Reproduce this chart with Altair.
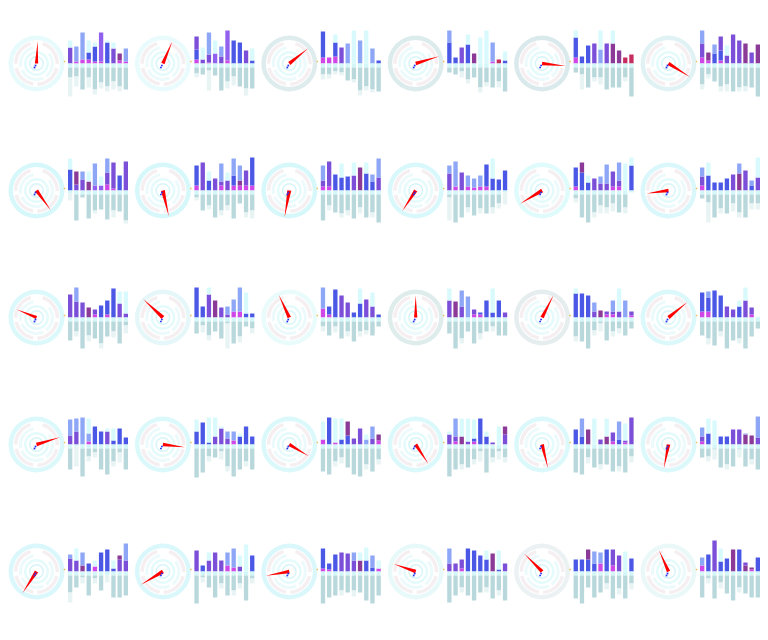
import altair as alt
import pandas as pd

# ---------------- data (30 cells, 10 bars each) ----------------
COLORS = {"A": "#4b58e6", "B": "#7c4fd8", "C": "#cf47e6", "D": "#8ea6f6", "E": "#d9fafc",
          "F": "#8b3b97", "R": "#c52d5e", "V": "#9160ee",
          "T": "#b8d8dc", "L": "#e8f3f4", "K": "#d3f7f9"}

# needle angle (deg, clockwise from 12 o'clock) and length (px)
ANG = [3, 23, 51, 73, 96, 122, 144, 167, 190, 213, 239, 262, 292, 313, 335, 0, 27, 51,
       73, 97, 121, 147, 166, 191, 213, 239, 260, 289, 315, 336]
LEN = [22, 24, 24, 24.6, 23.7, 25.4, 24.6, 26.4, 27, 24.8, 25.7, 22.2, 21.3, 26.8, 25.1, 22, 25, 24.1,
       24.6, 22.2, 22.8, 23.4, 24.4, 24.5, 25.8, 25.7, 23.8, 23.3, 25.2, 23.3]

# outer ring tint per cell
TINT = ["#dff9fb", "#e2fafb", "#d3e6e8", "#d0e4e6", "#cde3e5", "#d5eef0",
        "#c9f6f9", "#c9f6f9", "#c9f6f9", "#ccf6f9", "#d6f9fb", "#cdf6f9",
        "#cff7fa", "#dcf4f6", "#e3f9fa", "#d3e6e6", "#dde7e8", "#cff6f9",
        "#cff7fa", "#cff7fa", "#cff7fa", "#cff7fa", "#cff7fa", "#cff7fa",
        "#cdf6f9", "#cdf6f9", "#cdf6f9", "#e0f7f8", "#e6eeef", "#e3f5f6"]

# stacked bars above the baseline: magenta base, lower segment, upper segment
LOW_C = ["BDDAAVABFD", "ABBVBVAABA", "ACABDEDEDA", "AABAFEEDRA", "AAABDBFFRR", "BFAABBBFBF",
         "ABBFVVBBAB", "ABABBBAFBA", "BBAAABFAAB", "BDBDDDAAAA", "AAABBBBBEA", "BAAAABFBAB",
         "BBBFBAAABB", "AABFBBDDAA", "DAABBAABBA", "BFBDBAAAAB", "AAABFBBBDB", "AAAABBABBE",
         "BBDDAABAAA", "AAABBBDAAA", "EAEAABBDBF", "BBFBAAABEB", "AAFEBFBABB", "BAEAABBFFB",
         "BBFAEAAABB", "BABBBDDBEA", "AAABBBFAAE", "BBBAAAAFAB", "AAAADABBEA", "DABAAFAFFA"]
LOW_H = [[16, 15, 27, 7, 15, 29, 21, 15, 7, 13], [10, 4, 8, 10, 7, 30, 23, 21, 13, 3],
         [26, 6, 14, 16, 20, 33, 23, 33, 15, 3], [21, 6, 16, 19, 10, 26, 33, 19, 4, 3],
         [20, 7, 18, 20, 14, 20, 20, 13, 6, 9], [14, 8, 10, 10, 8, 29, 23, 20, 11, 19],
         [21, 6, 11, 9, 5, 5, 12, 26, 15, 29], [20, 28, 10, 12, 4, 10, 10, 5, 15, 28],
         [6, 25, 16, 13, 14, 15, 23, 17, 9, 13], [17, 25, 18, 11, 9, 11, 22, 12, 11, 20],
         [19, 18, 8, 12, 7, 7, 15, 6, 27, 25], [9, 15, 8, 8, 12, 16, 17, 20, 5, 13],
         [23, 16, 15, 10, 5, 12, 14, 29, 14, 4], [30, 11, 23, 17, 10, 3, 12, 24, 4, 4],
         [21, 8, 28, 22, 15, 5, 14, 18, 11, 3], [17, 16, 11, 21, 5, 2, 17, 5, 17, 5],
         [24, 24, 22, 6, 7, 3, 3, 6, 17, 4], [19, 14, 27, 22, 11, 8, 11, 17, 7, 1],
         [9, 13, 27, 8, 18, 13, 13, 4, 16, 7], [13, 22, 2, 8, 16, 6, 9, 8, 18, 8],
         [18, 27, 24, 5, 9, 6, 16, 5, 6, 6], [10, 5, 8, 3, 3, 26, 8, 2, 18, 10],
         [15, 8, 15, 26, 5, 8, 9, 5, 2, 27], [5, 11, 24, 8, 8, 15, 15, 10, 9, 7],
         [13, 11, 6, 8, 6, 19, 22, 3, 12, 11], [21, 6, 11, 19, 11, 13, 19, 5, 27, 16],
         [20, 6, 17, 19, 18, 11, 11, 11, 4, 8], [8, 8, 9, 23, 21, 16, 12, 18, 2, 8],
         [12, 12, 12, 8, 11, 22, 16, 16, 20, 13], [8, 17, 31, 10, 13, 22, 22, 6, 2, 14]]
UP_C = ["EEEEEEEEEE", "BEDEDEEEEE", "EEEEEEEEEE", "DEEEEEEEEE", "EEEEEEEEEE", "DEDBEEEEEE",
        "EFDEDEDEEE", "EEEEDEDDEE", "DEEEEEEEDD", "DEEEEEEEEE", "EFEEDDEDEE", "DEEEEEDEDE",
        "EDEEEEEEEE", "EEEEEDEEEE", "EEEEEEEEEE", "EEDEEEEEEE", "EEEDEEDEEE", "EDEEEEEEEE",
        "DDEEEEEEEE", "EEEEEDEEEE", "EEEEFEEEDE", "EDEEEEEEEF", "EDEEEEEDEE", "DEEEEEEDDD",
        "DEDEEEEEFD", "EEEEEEEEEE", "EEEEEDEEDE", "DEEEEEEEEE", "EEFDEEEEEE", "EEEEEEEBEE"]
UP_H = [[7, 0, 0, 12, 4, 0, 2, 6, 0, 0], [13, 12, 22, 13, 10, 0, 0, 0, 0, 12],
        [0, 0, 8, 0, 0, 0, 0, 0, 0, 0], [12, 0, 0, 10, 0, 0, 0, 0, 0, 9],
        [7, 0, 0, 0, 19, 0, 13, 0, 0, 0], [13, 0, 9, 14, 10, 0, 0, 0, 0, 0],
        [11, 13, 8, 10, 22, 9, 14, 0, 0, 0], [0, 0, 9, 0, 18, 8, 17, 15, 0, 0],
        [15, 0, 0, 14, 0, 13, 0, 11, 7, 19], [8, 0, 0, 0, 0, 0, 0, 20, 0, 0],
        [0, 10, 7, 0, 7, 19, 0, 18, 0, 8], [9, 13, 0, 0, 0, 0, 10, 0, 5, 20],
        [0, 14, 0, 0, 0, 0, 0, 0, 12, 22], [0, 0, 7, 0, 0, 8, 0, 0, 21, 0],
        [0, 0, 0, 0, 0, 0, 15, 0, 14, 0], [12, 0, 16, 0, 0, 0, 0, 24, 0, 0],
        [5, 0, 0, 9, 0, 0, 11, 23, 0, 0], [0, 6, 0, 0, 0, 0, 6, 13, 0, 0],
        [16, 13, 0, 15, 0, 0, 3, 12, 0, 0], [12, 0, 25, 19, 2, 7, 0, 3, 0, 0],
        [0, 0, 0, 21, 14, 0, 0, 5, 12, 0], [3, 18, 18, 23, 19, 0, 5, 0, 0, 8],
        [0, 18, 0, 0, 0, 18, 0, 18, 17, 0], [9, 15, 0, 0, 0, 0, 0, 1, 0, 21],
        [4, 12, 13, 0, 0, 0, 0, 8, 4, 17], [0, 0, 8, 0, 0, 0, 0, 11, 0, 0],
        [0, 0, 0, 0, 0, 8, 8, 13, 12, 0], [15, 0, 0, 0, 0, 0, 9, 0, 19, 0],
        [0, 0, 10, 12, 0, 0, 0, 0, 0, 0], [0, 0, 0, 13, 0, 0, 0, 3, 0, 0]]
MAG = [[0, 2, 4, 4, 2, 2, 0, 0, 3, 2], [4, 0, 1, 0, 0, 3, 0, 0, 0, 0], [6, 0, 7, 0, 0, 0, 0, 0, 0, 0],
       [0, 0, 0, 0, 0, 0, 0, 2, 0, 0], [6, 0, 0, 0, 0, 0, 0, 0, 0, 0], [6, 3, 0, 3, 0, 0, 0, 0, 0, 0],
       [0, 0, 0, 0, 0, 0, 6, 2, 0, 0], [5, 0, 0, 0, 5, 0, 5, 5, 5, 5], [4, 4, 0, 0, 0, 0, 0, 0, 0, 0],
       [0, 4, 0, 4, 3, 4, 4, 0, 0, 0], [4, 0, 0, 0, 0, 0, 4, 4, 0, 0], [5, 0, 0, 0, 0, 0, 0, 0, 0, 0],
       [0, 0, 0, 0, 3, 0, 3, 0, 0, 0], [0, 0, 0, 0, 0, 0, 6, 6, 0, 0], [9, 3, 0, 0, 0, 0, 0, 0, 0, 0],
       [0, 0, 0, 0, 3, 3, 0, 0, 0, 0], [0, 0, 0, 0, 0, 3, 3, 0, 0, 2], [6, 6, 0, 0, 0, 0, 0, 0, 3, 0],
       [0, 0, 0, 3, 0, 0, 0, 0, 0, 0], [0, 0, 0, 0, 0, 0, 4, 0, 0, 0], [5, 0, 2, 0, 0, 0, 0, 0, 0, 4],
       [0, 3, 0, 0, 3, 0, 0, 0, 0, 0], [0, 0, 0, 0, 0, 0, 3, 0, 2, 0], [3, 0, 0, 0, 0, 0, 0, 0, 0, 0],
       [0, 0, 0, 0, 5, 0, 0, 0, 0, 0], [0, 0, 0, 0, 0, 6, 4, 0, 0, 0], [3, 2, 0, 0, 0, 0, 0, 0, 0, 3],
       [0, 0, 3, 0, 0, 0, 0, 0, 0, 0], [0, 0, 0, 0, 8, 0, 6, 0, 0, 0], [6, 0, 0, 0, 0, 0, 0, 0, 2, 0]]

# bars below the baseline: teal depth and pale extension
DN = [[14, 13, 26, 14, 26, 19, 23, 18, 23, 26], [10, 11, 7, 12, 27, 18, 13, 23, 25, 25],
      [11, 11, 8, 9, 17, 16, 27, 23, 26, 28], [9, 11, 8, 16, 14, 24, 19, 24, 18, 28],
      [9, 11, 24, 14, 14, 26, 24, 24, 14, 33], [21, 11, 18, 23, 21, 28, 24, 23, 24, 33],
      [3, 30, 7, 28, 20, 19, 29, 20, 21, 30], [7, 20, 15, 27, 20, 15, 28, 13, 22, 20],
      [30, 15, 22, 23, 20, 28, 17, 27, 22, 32], [7, 32, 27, 17, 25, 18, 23, 17, 13, 2],
      [8, 27, 32, 22, 15, 17, 13, 22, 17, 2], [8, 12, 27, 18, 23, 13, 22, 27, 13, 13],
      [23, 14, 31, 18, 21, 26, 19, 14, 26, 8], [16, 8, 18, 14, 21, 6, 26, 19, 9, 11],
      [9, 18, 9, 21, 14, 24, 14, 13, 18, 9], [16, 31, 21, 14, 26, 16, 14, 9, 18, 18],
      [19, 24, 31, 13, 6, 23, 14, 11, 18, 11], [18, 21, 28, 14, 31, 23, 21, 31, 19, 11],
      [25, 2, 32, 12, 8, 25, 30, 17, 8, 25], [33, 28, 12, 13, 7, 22, 32, 25, 17, 25],
      [27, 30, 17, 13, 23, 30, 32, 20, 27, 15], [32, 25, 20, 23, 15, 7, 28, 13, 7, 13],
      [28, 30, 13, 23, 20, 20, 27, 22, 28, 12], [13, 12, 5, 23, 20, 22, 5, 22, 15, 25],
      [21, 16, 6, 24, 7, 19, 4, 26, 26, 24], [32, 6, 16, 26, 12, 24, 19, 12, 29, 7],
      [32, 26, 24, 19, 21, 19, 21, 29, 32, 24], [31, 24, 16, 24, 29, 21, 16, 27, 19, 29],
      [27, 32, 16, 26, 21, 12, 27, 17, 27, 12], [26, 7, 27, 11, 22, 29, 16, 22, 26, 26]]
EXT = [[19, 10, 0, 10, 5, 6, 5, 8, 5, 0], [4, 0, 20, 0, 0, 7, 9, 0, 7, 0], [5, 4, 3, 3, 0, 3, 5, 4, 3, 0],
       [0, 0, 6, 4, 0, 5, 4, 0, 6, 0], [0, 15, 0, 4, 7, 0, 0, 0, 4, 0], [5, 4, 0, 5, 7, 0, 4, 5, 0, 0],
       [7, 0, 0, 0, 3, 0, 0, 7, 0, 3], [3, 0, 4, 0, 5, 5, 0, 0, 5, 8], [0, 5, 0, 4, 5, 0, 6, 0, 5, 0],
       [23, 0, 0, 5, 0, 5, 0, 6, 5, 12], [4, 0, 0, 5, 8, 6, 8, 0, 6, 0], [0, 20, 0, 5, 0, 8, 5, 0, 6, 6],
       [0, 5, 0, 6, 0, 5, 0, 6, 0, 8], [0, 7, 5, 0, 0, 25, 0, 6, 0, 5], [5, 0, 6, 0, 5, 0, 5, 4, 0, 0],
       [0, 0, 5, 0, 0, 6, 0, 5, 0, 0], [5, 0, 0, 5, 8, 0, 5, 5, 0, 0], [0, 6, 0, 5, 0, 0, 5, 0, 0, 0],
       [0, 20, 0, 5, 5, 0, 0, 5, 10, 0], [0, 0, 5, 0, 8, 5, 0, 0, 5, 0], [0, 0, 5, 6, 0, 0, 0, 5, 0, 5],
       [0, 0, 5, 0, 5, 10, 0, 5, 8, 5], [0, 0, 6, 0, 5, 0, 0, 5, 0, 6], [0, 5, 10, 0, 5, 0, 8, 0, 5, 0],
       [10, 0, 6, 0, 5, 0, 7, 0, 0, 0], [0, 5, 0, 0, 5, 0, 5, 5, 0, 5], [0, 0, 0, 5, 0, 6, 0, 0, 0, 0],
       [0, 0, 5, 0, 0, 0, 5, 0, 5, 0], [0, 0, 0, 0, 0, 6, 0, 6, 0, 6], [0, 5, 0, 6, 0, 0, 5, 0, 0, 0]]

# gauge rings (decoration): inner/outer radius, colour, arc segments (radians)
RING_IN = [23.5, 19.0, 14.5, 10.0, 6.0]
RING_OUT = [28.0, 22.5, 17.5, 12.5, 7.5]
RING_COL = [None, "#f1eaed", "#e6f8f9", "#dcf9fa", "#c8f2f5"]
RING_SEGS = [[(0.0, 6.2832)],
             [(0.3, 1.6), (1.8, 3.1), (3.3, 4.5), (4.7, 6.0)],
             [(0.9, 2.5), (2.7, 4.3), (4.5, 6.1)],
             [(0.0, 6.2832)],
             [(0.0, 6.2832)]]
BAND = 4

# ---------------- build the long table ----------------
rows = []
for ci in range(30):
    for b in range(10):
        m, lh, uh = MAG[ci][b], LOW_H[ci][b], UP_H[ci][b]
        segs = []
        if m > 0:
            segs.append((0, m, "C"))
        if lh > 0:
            segs.append((m, m + lh, LOW_C[ci][b]))
        if uh > 0:
            segs.append((m + lh, m + lh + uh, UP_C[ci][b]))
        dn, ex = DN[ci][b], EXT[ci][b]
        band = min(BAND, dn)
        if band > 0:
            segs.append((-band, 0, "K"))
        if dn > band:
            segs.append((-dn, -band, "T"))
        if ex > 0:
            segs.append((-dn - ex, -dn, "L"))
        for y0, y1, c in segs:
            rows.append(dict(kind="bar", cell=ci, bar=b, y0=y0, y1=y1, color=COLORS[c]))
    for k in range(len(RING_IN)):
        col = TINT[ci] if RING_COL[k] is None else RING_COL[k]
        for t0, t1 in RING_SEGS[k]:
            rows.append(dict(kind="ring", cell=ci, r0=RING_IN[k], r1=RING_OUT[k], t0=t0, t1=t1, color=col))
    rows.append(dict(kind="needle", cell=ci, angle=ANG[ci], size=4 * LEN[ci] ** 2))

df = pd.DataFrame(rows)

CX, CY = 28.5, 55.5
base = alt.Chart()

rings = base.mark_arc(opacity=0.75).encode(
    x=alt.value(CX), y=alt.value(CY),
    theta=alt.Theta("t0:Q", scale=None), theta2="t1:Q",
    radius=alt.Radius("r1:Q", scale=None), radius2="r0:Q",
    color=alt.Color("color:N", scale=None),
).transform_filter(alt.datum.kind == "ring")

bars = base.mark_bar().encode(
    x=alt.X("bar:O", axis=None, scale=alt.Scale(range=[60, 120], paddingInner=0.3, paddingOuter=0)),
    y=alt.Y("y0:Q", axis=None, scale=alt.Scale(domain=[-44.5, 55.5], nice=False)),
    y2="y1:Q",
    color=alt.Color("color:N", scale=None),
).transform_filter(alt.datum.kind == "bar")

needle = base.mark_point(shape="M-0.075,0L0,-1L0.075,0Z", filled=True, color="#ff0000",
                         opacity=1, strokeWidth=0).encode(
    x=alt.value(CX), y=alt.value(CY),
    angle=alt.Angle("angle:Q", scale=None),
    size=alt.Size("size:Q", scale=None),
).transform_filter(alt.datum.kind == "needle")

dot1 = base.mark_square(size=3, color="#2233ee", opacity=1).encode(
    x=alt.value(CX - 1), y=alt.value(CY + 2)).transform_filter(alt.datum.kind == "needle")
dot2 = base.mark_square(size=3, color="#2233ee", opacity=1).encode(
    x=alt.value(CX - 2), y=alt.value(CY + 4)).transform_filter(alt.datum.kind == "needle")
dot3 = base.mark_square(size=2, color="#f3b94a", opacity=1).encode(
    x=alt.value(CX + 28), y=alt.value(CY - 2)).transform_filter(alt.datum.kind == "needle")

panels = [
    alt.layer(rings, bars, needle, dot1, dot2, dot3)
    .transform_filter(alt.datum.cell == i)
    .properties(width=120, height=100)
    for i in range(30)
]

chart = alt.concat(*panels, columns=6, spacing={"row": 27, "column": 6.4}, data=df) \
    .properties(padding=0).configure_view(strokeWidth=0)

chart.save("out.html", embed_options={"renderer": "svg", "actions": False})
